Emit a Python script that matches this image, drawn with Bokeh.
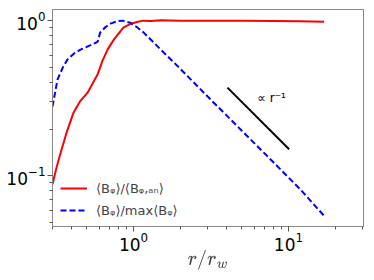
from bokeh.plotting import figure
from bokeh.models import Legend, LegendItem, Label, FixedTicker, LogTickFormatter
from bokeh.embed import file_html
from bokeh.resources import INLINE

# Data
r_red = [0.3, 0.32, 0.343, 0.37, 0.41, 0.45, 0.505, 0.55, 0.586, 0.63, 0.68, 0.75,
         0.86, 0.95, 1.05, 1.16, 1.3, 1.5, 2.0, 3.0, 5.0, 8.0, 12.0, 17.0]
b_red = [0.088, 0.115, 0.147, 0.19, 0.255, 0.30, 0.343, 0.40, 0.449, 0.55, 0.65, 0.76,
         0.90, 0.95, 0.98, 1.0, 0.995, 1.005, 1.0, 1.0, 1.0, 0.995, 0.99, 0.985]

r_blue = [0.3, 0.323, 0.35, 0.374, 0.41, 0.455, 0.52, 0.586, 0.61, 0.66, 0.71, 0.78,
          0.85, 0.95, 1.05, 1.16, 1.5, 2.0, 3.0, 5.0, 8.0, 12.0, 17.0]
b_blue = [0.279, 0.416, 0.50, 0.56, 0.61, 0.65, 0.69, 0.73, 0.84, 0.91, 0.956, 0.99,
          1.0, 0.97, 0.91, 0.84, 0.65, 0.49, 0.325, 0.195, 0.122, 0.081, 0.055]

r_ref = [4.04, 10.1]
b_ref = [0.37, 0.148]

label_red = "⟨Bᵩ⟩/⟨Bᵩ,ₐₙ⟩"
label_blue = "⟨Bᵩ⟩/max⟨Bᵩ⟩"
ref_label = "∝ r⁻¹"
ref_label_pos = (6.3, 0.285)

y_major = [0.1, 1.0]
y_minor = [0.05, 0.06, 0.07, 0.08, 0.09, 0.2, 0.3, 0.4, 0.5, 0.6, 0.7, 0.8, 0.9]
x_major = [1.0, 10.0]
x_minor = [0.3, 0.4, 0.5, 0.6, 0.7, 0.8, 0.9, 2, 3, 4, 5, 6, 7, 8, 9, 20, 30]

p = figure(x_axis_type="log", y_axis_type="log",
           x_range=(0.3, 30.5), y_range=(0.047, 1.18),
           frame_width=311, frame_height=217,
           min_border_left=52, min_border_right=3, min_border_top=9, min_border_bottom=40,
           output_backend="svg", toolbar_location=None)

r1 = p.line(r_red, b_red, line_color="red", line_width=2)
r2 = p.line(r_blue, b_blue, line_color="blue", line_width=2, line_dash="6 3")
p.line(r_ref, b_ref, line_color="black", line_width=2)

p.add_layout(Label(x=ref_label_pos[0], y=ref_label_pos[1], text=ref_label,
                   text_font_size="12px", text_font="DejaVu Sans", text_color="black"))

legend = Legend(items=[LegendItem(label=label_red, renderers=[r1]),
                       LegendItem(label=label_blue, renderers=[r2])],
                location="bottom_left", border_line_color=None,
                background_fill_alpha=0, label_text_font_size="13px",
                label_text_font="DejaVu Sans", glyph_width=27, glyph_height=16,
                label_standoff=9, label_height=16, spacing=6,
                margin=8, padding=3)
p.add_layout(legend)

p.xaxis.ticker = FixedTicker(ticks=x_major, minor_ticks=x_minor)
p.yaxis.ticker = FixedTicker(ticks=y_major, minor_ticks=y_minor)
p.xaxis.formatter = LogTickFormatter()
p.yaxis.formatter = LogTickFormatter()

p.grid.visible = False
p.outline_line_color = "#888888"
for ax in (p.xaxis, p.yaxis):
    ax.axis_line_color = "#888888"
    ax.major_tick_line_color = "#555555"
    ax.minor_tick_line_color = "#555555"
    ax.major_tick_out = 5
    ax.major_tick_in = 0
    ax.minor_tick_out = 3
    ax.minor_tick_in = 0
    ax.major_label_text_font_size = "17px"
    ax.major_label_text_font = "DejaVu Sans"
    ax.major_label_text_color = "black"
    ax.major_label_standoff = 2

p.xaxis.major_label_standoff = 0
p.xaxis.axis_label = "$$r/r_w$$"
p.xaxis.axis_label_text_font_size = "17px"
p.xaxis.axis_label_standoff = -4

open("out.html", "w").write(file_html(p, INLINE))
